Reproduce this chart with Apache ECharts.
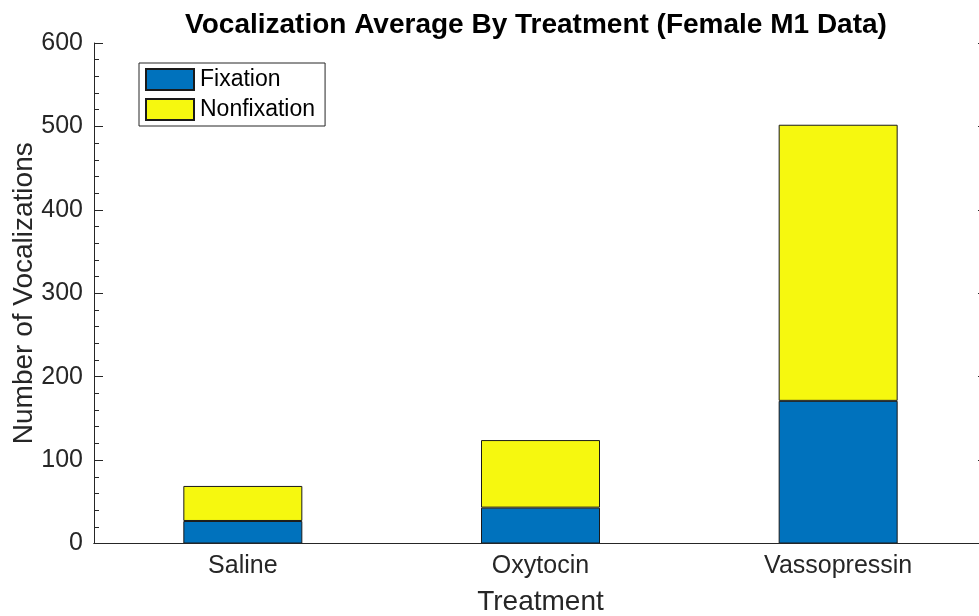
<!DOCTYPE html>
<html>
<head>
<meta charset="utf-8">
<script src="https://cdn.jsdelivr.net/npm/echarts@6/dist/echarts.min.js"></script>
<style>
  html, body { margin: 0; padding: 0; background: #fff; }
  #chart { width: 979px; height: 616px; }
</style>
</head>
<body>
<div id="chart"></div>
<script>
const categories = ["Saline", "Oxytocin", "Vassopressin"];
const fixation = [27, 43, 171];
const nonfixation = [42, 81, 331];
const seriesNames = ["Fixation", "Nonfixation"];

const chart = echarts.init(document.getElementById("chart"));
const axisColor = "#262626";
const font = "Liberation Sans, Arial, Helvetica, sans-serif";

const option = {
  animation: false,
  title: {
    text: "Vocalization Average By Treatment (Female M1 Data)",
    left: 531,
    textAlign: "center",
    top: 6,
    textStyle: { fontFamily: font, fontSize: 28, fontWeight: "bold", color: "#000" },
  },
  legend: {
    data: seriesNames,
    orient: "vertical",
    left: 139,
    top: 63,
    padding: [5, 10, 5, 6],
    itemGap: 7,
    itemWidth: 48,
    itemHeight: 21,
    icon: "rect",
    borderColor: axisColor,
    borderWidth: 1,
    backgroundColor: "#fff",
    textStyle: { fontFamily: font, fontSize: 23, color: "#000", padding: [0, 0, 0, 1] },
  },
  // plot box runs a little past the right edge, like the original
  grid: { left: 94, right: -8, top: 43, bottom: 72.5, containLabel: false, outerBoundsMode: "none" },
  xAxis: [
    {
      type: "category",
      data: categories,
      z: 5,
      name: "Treatment",
      nameLocation: "middle",
      nameGap: 45,
      nameTextStyle: { fontFamily: font, fontSize: 28, color: axisColor },
      axisLine: { lineStyle: { color: axisColor, width: 1 } },
      axisTick: { inside: true, alignWithLabel: true, length: 9, lineStyle: { color: axisColor } },
      axisLabel: { fontFamily: font, fontSize: 25, color: axisColor, margin: 10 },
      splitLine: { show: false },
    },
    {
      type: "category",
      data: categories,
      position: "top",
      z: 5,
      axisLine: { lineStyle: { color: axisColor, width: 1 } },
      axisTick: { inside: true, alignWithLabel: true, length: 9, lineStyle: { color: axisColor } },
      axisLabel: { show: false },
    },
  ],
  yAxis: [
    {
      type: "value",
      min: 0,
      max: 600,
      interval: 100,
      z: 5,
      name: "Number of Vocalizations",
      nameLocation: "middle",
      nameGap: 70,
      nameMoveOverlap: false,
      nameTextStyle: { fontFamily: font, fontSize: 28, color: axisColor, verticalAlign: "middle" },
      axisLine: { show: true, lineStyle: { color: axisColor, width: 1 } },
      axisTick: { show: true, inside: true, length: 9, lineStyle: { color: axisColor } },
      minorTick: { show: true, splitNumber: 5, length: 5, lineStyle: { color: axisColor } },
      axisLabel: { fontFamily: font, fontSize: 25, color: axisColor, margin: 11 },
      splitLine: { show: false },
    },
    {
      type: "value",
      min: 0,
      max: 600,
      interval: 100,
      position: "right",
      z: 5,
      axisLine: { show: true, lineStyle: { color: axisColor, width: 1 } },
      axisTick: { show: true, inside: true, length: 9, lineStyle: { color: axisColor } },
      minorTick: { show: true, splitNumber: 5, length: 5, lineStyle: { color: axisColor } },
      axisLabel: { show: false },
      splitLine: { show: false },
    },
  ],
  series: [
    {
      name: seriesNames[0],
      type: "bar",
      stack: "total",
      barWidth: 119,
      data: fixation,
      itemStyle: { color: "#0072bd", borderColor: "#1a1a1a", borderWidth: 1 },
    },
    {
      name: seriesNames[1],
      type: "bar",
      stack: "total",
      barWidth: 119,
      data: nonfixation,
      itemStyle: { color: "#f6f80f", borderColor: "#1a1a1a", borderWidth: 1 },
    },
  ],
};

chart.setOption(option);
</script>
</body>
</html>
